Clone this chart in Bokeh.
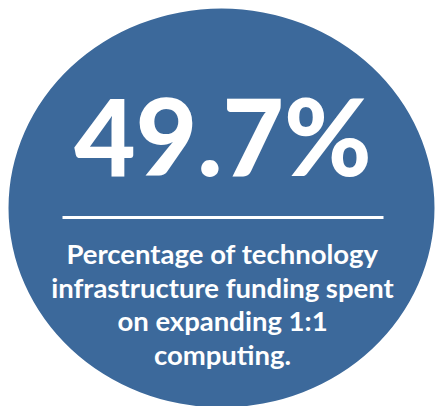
from bokeh.plotting import figure
from bokeh.models import Range1d
from bokeh.core.properties import value
from bokeh.embed import file_html
from bokeh.resources import INLINE

# --- data ---
stat_value = [49.7]
stat_labels = ["49.7%"]
caption_lines = [
    "Percentage of technology",
    "infrastructure funding spent",
    "on expanding 1:1",
    "computing.",
]

# --- layout (pixel-like data coordinates, y downwards) ---
W, H = 435, 406
p = figure(width=W, height=H, output_backend="svg", toolbar_location=None,
           x_range=Range1d(0, W), y_range=Range1d(H, 0),
           min_border=0, outline_line_color=None, background_fill_color="white",
           border_fill_color="white")
p.axis.visible = False
p.grid.visible = False

CIRCLE = "#3c699b"
p.ellipse(x=[221], y=[207.5], width=[426], height=[399],
          fill_color=CIRCLE, line_color=None)

# big number
p.text(x=[222.5], y=[134], text=stat_labels,
       text_font=value("Lato Black"), text_font_style="bold", text_font_size="106px",
       text_color="white", text_align="center", text_baseline="alphabetic")

# divider line
p.segment(x0=[62], y0=[217], x1=[383], y1=[217], line_color="white", line_width=3)

# caption
baselines = [253, 286.5, 320, 354]
p.text(x=[222] * len(caption_lines), y=baselines, text=caption_lines,
       text_font=value("Lato"), text_font_style="bold", text_font_size="27.5px",
       text_color="white", text_align="center", text_baseline="alphabetic")

open("out.html", "w").write(file_html(p, INLINE))
